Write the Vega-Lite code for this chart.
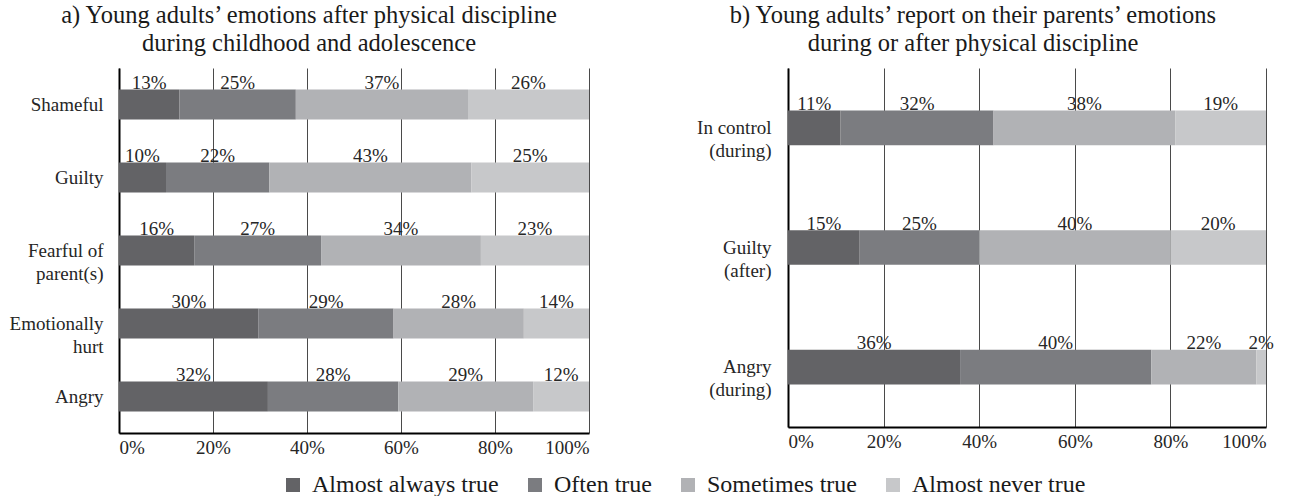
{
  "$schema": "https://vega.github.io/schema/vega-lite/v6.json",
  "padding": {"left": 9, "top": 2, "right": 5, "bottom": 0},
  "background": "white",
  "config": {
    "font": "Liberation Serif, Times New Roman, serif",
    "view": {"stroke": null},
    "axis": {"labelFont": "Liberation Serif, Times New Roman, serif", "labelFontSize": 19, "labelColor": "#262626", "ticks": false, "title": null, "domainColor": "#000000", "domainWidth": 2, "gridColor": "#4a4a4a", "gridWidth": 1, "gridOpacity": 1},
    "title": {"font": "Liberation Serif, Times New Roman, serif", "fontSize": 24.5, "fontWeight": "normal", "color": "#1a1a1a", "lineHeight": 28, "anchor": "middle", "offset": 12},
    "text": {"font": "Liberation Serif, Times New Roman, serif"},
    "concat": {"spacing": 107}
  },
  "datasets": {
    "a": [
      {"item": "Shameful", "response": "Almost always true", "ord": 1, "pct": 0.13},
      {"item": "Shameful", "response": "Often true", "ord": 2, "pct": 0.25},
      {"item": "Shameful", "response": "Sometimes true", "ord": 3, "pct": 0.37},
      {"item": "Shameful", "response": "Almost never true", "ord": 4, "pct": 0.26},
      {"item": "Guilty", "response": "Almost always true", "ord": 1, "pct": 0.10},
      {"item": "Guilty", "response": "Often true", "ord": 2, "pct": 0.22},
      {"item": "Guilty", "response": "Sometimes true", "ord": 3, "pct": 0.43},
      {"item": "Guilty", "response": "Almost never true", "ord": 4, "pct": 0.25},
      {"item": "Fearful of\nparent(s)", "response": "Almost always true", "ord": 1, "pct": 0.16},
      {"item": "Fearful of\nparent(s)", "response": "Often true", "ord": 2, "pct": 0.27},
      {"item": "Fearful of\nparent(s)", "response": "Sometimes true", "ord": 3, "pct": 0.34},
      {"item": "Fearful of\nparent(s)", "response": "Almost never true", "ord": 4, "pct": 0.23},
      {"item": "Emotionally\nhurt", "response": "Almost always true", "ord": 1, "pct": 0.30},
      {"item": "Emotionally\nhurt", "response": "Often true", "ord": 2, "pct": 0.29},
      {"item": "Emotionally\nhurt", "response": "Sometimes true", "ord": 3, "pct": 0.28},
      {"item": "Emotionally\nhurt", "response": "Almost never true", "ord": 4, "pct": 0.14},
      {"item": "Angry", "response": "Almost always true", "ord": 1, "pct": 0.32},
      {"item": "Angry", "response": "Often true", "ord": 2, "pct": 0.28},
      {"item": "Angry", "response": "Sometimes true", "ord": 3, "pct": 0.29},
      {"item": "Angry", "response": "Almost never true", "ord": 4, "pct": 0.12}
    ],
    "b": [
      {"item": "In control\n(during)", "response": "Almost always true", "ord": 1, "pct": 0.11},
      {"item": "In control\n(during)", "response": "Often true", "ord": 2, "pct": 0.32},
      {"item": "In control\n(during)", "response": "Sometimes true", "ord": 3, "pct": 0.38},
      {"item": "In control\n(during)", "response": "Almost never true", "ord": 4, "pct": 0.19},
      {"item": "Guilty\n(after)", "response": "Almost always true", "ord": 1, "pct": 0.15},
      {"item": "Guilty\n(after)", "response": "Often true", "ord": 2, "pct": 0.25},
      {"item": "Guilty\n(after)", "response": "Sometimes true", "ord": 3, "pct": 0.40},
      {"item": "Guilty\n(after)", "response": "Almost never true", "ord": 4, "pct": 0.20},
      {"item": "Angry\n(during)", "response": "Almost always true", "ord": 1, "pct": 0.36},
      {"item": "Angry\n(during)", "response": "Often true", "ord": 2, "pct": 0.40},
      {"item": "Angry\n(during)", "response": "Sometimes true", "ord": 3, "pct": 0.22},
      {"item": "Angry\n(during)", "response": "Almost never true", "ord": 4, "pct": 0.02}
    ]
  },
  "hconcat": [
    {
      "title": {"text": ["a) Young adults’ emotions after physical discipline", "during childhood and adolescence"], "dx": -45},
      "width": 470,
      "height": 365,
      "data": {"name": "a"},
      "encoding": {
        "y": {"field": "item", "type": "nominal", "sort": ["Shameful", "Guilty", "Fearful of\nparent(s)", "Emotionally\nhurt", "Angry"], "scale": {"paddingInner": 0.59, "paddingOuter": 0.295}, "axis": {"labelExpr": "split(datum.label, '\\n')", "labelLineHeight": 23, "labelPadding": 16, "grid": false, "labelFontSize": 19}}
      },
      "layer": [
        {
          "mark": {"type": "bar"},
          "encoding": {
            "x": {"field": "pct", "type": "quantitative", "stack": "normalize", "scale": {"domain": [0, 1]}, "axis": {"format": ".0%", "values": [0, 0.2, 0.4, 0.6, 0.8, 1], "labelPadding": 5, "grid": true}},
            "order": {"field": "ord", "type": "quantitative"},
            "color": {"field": "response", "type": "nominal", "scale": {"domain": ["Almost always true", "Often true", "Sometimes true", "Almost never true"], "range": ["#636366", "#7b7c80", "#b1b2b5", "#c7c8ca"]},
              "legend": {"orient": "none", "legendX": 162, "legendY": 405, "direction": "horizontal", "title": null, "symbolType": "square", "symbolSize": 196, "symbolStrokeWidth": 0, "symbolOpacity": 1, "labelFontSize": 24, "labelLimit": 0, "labelFont": "Liberation Serif, Times New Roman, serif", "labelColor": "#1a1a1a", "columnPadding": 24, "labelOffset": 7}}
          }
        },
        {
          "transform": [
            {"stack": "pct", "groupby": ["item"], "sort": [{"field": "ord", "order": "ascending"}], "offset": "normalize", "as": ["x0", "x1"]},
            {"fold": ["x0", "x1"], "as": ["edge", "pos"]},
            {"aggregate": [{"op": "mean", "field": "pos", "as": "mid"}], "groupby": ["item", "response", "pct"]}
          ],
          "mark": {"type": "text", "dy": -16, "baseline": "alphabetic", "fontSize": 19, "color": "#262626"},
          "encoding": {
            "x": {"field": "mid", "type": "quantitative"},
            "text": {"field": "pct", "type": "quantitative", "format": ".0%"}
          }
        }
      ]
    },
    {
      "title": {"text": ["b) Young adults’ report on their parents’ emotions", "during or after physical discipline"], "dx": -54},
      "width": 478,
      "height": 359,
      "data": {"name": "b"},
      "encoding": {
        "y": {"field": "item", "type": "nominal", "sort": ["In control\n(during)", "Guilty\n(after)", "Angry\n(during)"], "scale": {"paddingInner": 0.71, "paddingOuter": 0.355}, "axis": {"labelExpr": "split(datum.label, '\\n')", "labelLineHeight": 23, "labelPadding": 17, "grid": false, "labelFontSize": 19}}
      },
      "layer": [
        {
          "mark": {"type": "bar"},
          "encoding": {
            "x": {"field": "pct", "type": "quantitative", "stack": "normalize", "scale": {"domain": [0, 1]}, "axis": {"format": ".0%", "values": [0, 0.2, 0.4, 0.6, 0.8, 1], "labelPadding": 5, "grid": true}},
            "order": {"field": "ord", "type": "quantitative"},
            "color": {"field": "response", "type": "nominal", "scale": {"domain": ["Almost always true", "Often true", "Sometimes true", "Almost never true"], "range": ["#636366", "#7b7c80", "#b1b2b5", "#c7c8ca"]}}
          }
        },
        {
          "transform": [
            {"stack": "pct", "groupby": ["item"], "sort": [{"field": "ord", "order": "ascending"}], "offset": "normalize", "as": ["x0", "x1"]},
            {"fold": ["x0", "x1"], "as": ["edge", "pos"]},
            {"aggregate": [{"op": "mean", "field": "pos", "as": "mid"}], "groupby": ["item", "response", "pct"]}
          ],
          "mark": {"type": "text", "dy": -18, "baseline": "alphabetic", "fontSize": 19, "color": "#262626"},
          "encoding": {
            "x": {"field": "mid", "type": "quantitative"},
            "text": {"field": "pct", "type": "quantitative", "format": ".0%"}
          }
        }
      ]
    }
  ],
  "resolve": {"scale": {"color": "shared"}}
}
